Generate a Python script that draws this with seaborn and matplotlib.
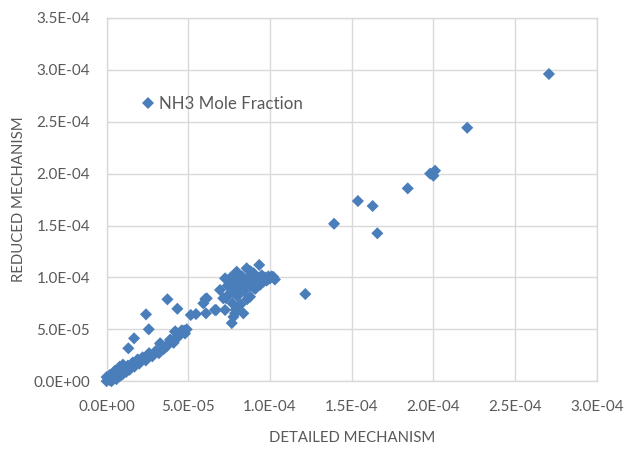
import matplotlib
matplotlib.use("Agg")
import matplotlib.pyplot as plt
from matplotlib.lines import Line2D
from matplotlib.ticker import FuncFormatter
import seaborn as sns
import pandas as pd

# NH3 mole fraction: detailed vs reduced mechanism
detailed = [
    # near-origin blob and lower diagonal band
    0.0e-5, 0.1e-5, 0.2e-5, 0.3e-5, 0.4e-5, 0.5e-5, 0.6e-5, 0.7e-5, 0.8e-5, 0.9e-5,
    1.0e-5, 1.1e-5, 1.2e-5, 0.5e-5, 0.8e-5, 1.0e-5, 1.3e-5, 1.4e-5, 1.6e-5, 1.7e-5,
    1.9e-5, 2.0e-5, 2.2e-5, 2.4e-5, 2.6e-5, 2.8e-5, 3.0e-5, 3.2e-5, 3.3e-5, 3.5e-5,
    3.7e-5, 3.9e-5, 4.1e-5, 4.2e-5, 4.4e-5, 4.6e-5, 4.8e-5, 4.9e-5,
    0.3e-5, 0.6e-5, 0.0e-5, 0.2e-5, 0.9e-5, 1.5e-5, 2.1e-5, 2.5e-5, 3.6e-5, 4.0e-5, 4.5e-5,
    # points above the band
    1.33e-5, 1.68e-5, 2.41e-5, 2.58e-5, 3.72e-5, 4.33e-5, 4.19e-5, 4.74e-5, 3.27e-5, 3.88e-5,
    # middle group
    5.15e-5, 5.47e-5, 6.04e-5, 5.92e-5, 6.08e-5, 6.13e-5, 6.70e-5, 6.63e-5,
    7.76e-5, 7.66e-5, 7.86e-5,
    # dense cluster around 1e-4
    6.94e-5, 7.14e-5, 7.25e-5, 7.25e-5, 7.40e-5, 7.50e-5, 7.60e-5, 7.70e-5, 7.80e-5, 7.96e-5,
    8.00e-5, 8.10e-5, 8.20e-5, 8.30e-5, 8.40e-5, 8.50e-5, 8.57e-5, 8.60e-5, 8.70e-5, 8.78e-5,
    8.90e-5, 9.00e-5, 9.10e-5, 9.20e-5, 9.34e-5, 9.40e-5, 9.50e-5, 9.60e-5, 9.70e-5, 9.80e-5,
    9.90e-5, 10.0e-5, 10.1e-5, 10.3e-5, 10.2e-5, 7.90e-5, 8.37e-5, 8.10e-5, 9.00e-5, 8.80e-5,
    8.80e-5, 9.20e-5, 9.60e-5, 8.40e-5, 7.70e-5, 8.20e-5, 9.00e-5, 9.40e-5, 8.60e-5, 7.50e-5,
    7.30e-5, 8.00e-5,
    # high-concentration points
    12.16e-5, 13.92e-5, 15.38e-5, 16.28e-5, 16.57e-5, 18.43e-5,
    19.80e-5, 20.00e-5, 20.10e-5, 22.07e-5, 27.07e-5,
]
reduced = [
    0.0e-5, 0.3e-5, 0.1e-5, 0.5e-5, 0.2e-5, 0.7e-5, 0.4e-5, 0.9e-5, 0.5e-5, 1.1e-5,
    0.7e-5, 1.3e-5, 0.9e-5, 1.0e-5, 1.4e-5, 1.6e-5, 1.5e-5, 1.1e-5, 1.8e-5, 1.4e-5,
    2.1e-5, 1.7e-5, 2.3e-5, 2.0e-5, 2.7e-5, 2.4e-5, 2.9e-5, 2.7e-5, 3.6e-5, 3.1e-5,
    3.4e-5, 4.0e-5, 3.7e-5, 4.8e-5, 4.3e-5, 4.9e-5, 4.6e-5, 5.0e-5,
    0.0e-5, 0.2e-5, 0.4e-5, 0.6e-5, 0.6e-5, 1.6e-5, 2.0e-5, 2.5e-5, 3.3e-5, 3.9e-5, 4.6e-5,
    3.17e-5, 4.13e-5, 6.44e-5, 5.00e-5, 7.89e-5, 6.98e-5, 4.77e-5, 4.87e-5, 3.65e-5, 3.97e-5,
    6.38e-5, 6.47e-5, 7.92e-5, 7.50e-5, 6.54e-5, 7.98e-5, 6.86e-5, 6.86e-5,
    6.20e-5, 5.60e-5, 6.54e-5,
    8.79e-5, 7.99e-5, 9.91e-5, 6.86e-5, 9.20e-5, 8.40e-5, 10.0e-5, 7.50e-5, 9.00e-5, 10.55e-5,
    8.20e-5, 9.60e-5, 7.40e-5, 10.1e-5, 8.70e-5, 9.30e-5, 10.88e-5, 7.90e-5, 9.90e-5, 8.14e-5,
    9.50e-5, 10.4e-5, 8.90e-5, 9.80e-5, 11.2e-5, 9.30e-5, 10.2e-5, 9.60e-5, 10.0e-5, 9.70e-5,
    10.1e-5, 9.90e-5, 10.1e-5, 9.80e-5, 10.05e-5, 6.90e-5, 6.54e-5, 8.70e-5, 9.60e-5, 10.6e-5,
    9.20e-5, 9.20e-5, 9.90e-5, 9.60e-5, 8.60e-5, 8.80e-5, 9.00e-5, 10.0e-5, 9.80e-5, 9.60e-5,
    8.00e-5, 10.0e-5,
    8.40e-5, 15.17e-5, 17.36e-5, 16.88e-5, 14.25e-5, 18.58e-5,
    20.00e-5, 19.80e-5, 20.28e-5, 24.42e-5, 29.60e-5,
]
x_ticks = [0.0, 5.0e-5, 1.0e-4, 1.5e-4, 2.0e-4, 2.5e-4, 3.0e-4]
y_ticks = [0.0, 5.0e-5, 1.0e-4, 1.5e-4, 2.0e-4, 2.5e-4, 3.0e-4, 3.5e-4]
series_name = "NH3 Mole Fraction"

df = pd.DataFrame({"detailed": detailed, "reduced": reduced})

sns.set_style("white")
plt.rcParams["font.family"] = ["Lato", "DejaVu Sans"]

blue = "#4A7EBB"
grid = "#D9D9D9"
text_col = "#595959"

fig = plt.figure(figsize=(6.29, 4.49), dpi=100)
ax = fig.add_axes([0.1695, 0.151, 0.7793, 0.809])

sns.scatterplot(data=df, x="detailed", y="reduced", marker="D", s=38,
                color=blue, edgecolor="none", linewidth=0, ax=ax, zorder=3,
                legend=False)
for coll in ax.collections:
    coll.set_clip_on(False)

ax.set_xlim(x_ticks[0], x_ticks[-1])
ax.set_ylim(y_ticks[0], y_ticks[-1])
ax.set_xticks(x_ticks)
ax.set_yticks(y_ticks)

ax.xaxis.set_major_formatter(FuncFormatter(lambda v, pos: f"{v:.1E}"))
ax.yaxis.set_major_formatter(FuncFormatter(lambda v, pos: f"{v:.1E}"))

ax.grid(True, color=grid, linewidth=1.0, zorder=0)
ax.set_axisbelow(True)
for sp in ax.spines.values():
    sp.set_color(grid)
    sp.set_linewidth(1.0)

ax.tick_params(axis="both", length=0, labelsize=11, labelcolor=text_col)
ax.tick_params(axis="x", pad=13.5)
ax.tick_params(axis="y", pad=12)

ax.set_xlabel("DETAILED MECHANISM", fontsize=10.7, color=text_col, labelpad=12)
ax.set_ylabel("REDUCED MECHANISM", fontsize=10.7, color=text_col, labelpad=5)

handle = Line2D([], [], marker="D", linestyle="none", color=blue,
                markersize=6, markeredgewidth=0)
leg = ax.legend([handle], [series_name], loc="center left",
                bbox_to_anchor=(0.222, 0.768), bbox_transform=fig.transFigure,
                frameon=False, fontsize=12.2, handletextpad=0.15,
                handlelength=1.0, borderaxespad=0, borderpad=0)
for t in leg.get_texts():
    t.set_color(text_col)

fig.savefig("out.png", dpi=100)
